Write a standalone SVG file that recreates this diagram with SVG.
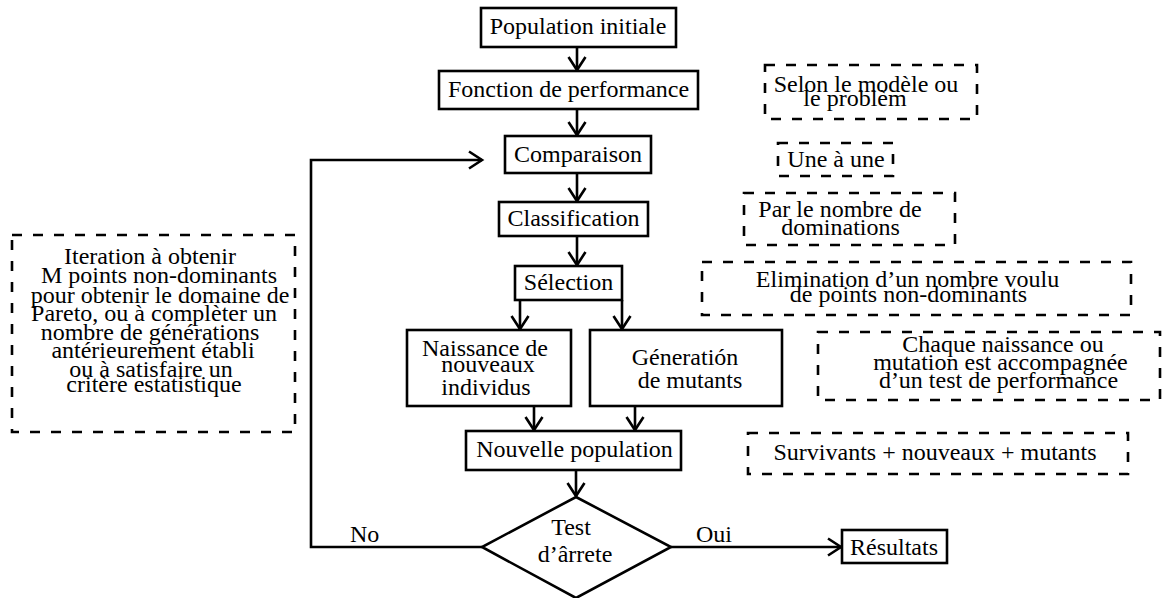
<svg xmlns="http://www.w3.org/2000/svg" width="1164" height="598" viewBox="0 0 1164 598">
<defs>
<style>
text{font-family:"Liberation Serif","Times New Roman",serif;font-size:24px;fill:#000;text-anchor:middle}
.b{fill:#fff;stroke:#000;stroke-width:2.6}
.d{fill:none;stroke:#000;stroke-width:2.6;stroke-dasharray:10 11}
.c{fill:none;stroke:#000;stroke-width:2.6}
.s{text-anchor:start}
</style>
<marker id="ah" markerUnits="userSpaceOnUse" markerWidth="20" markerHeight="22" viewBox="-15 -11 17 22" refX="0" refY="0" orient="auto">
<path d="M-13,-8.5 L0,0 L-13,8.5" fill="none" stroke="#000" stroke-width="2.6"/>
</marker>
</defs>
<rect width="1164" height="598" fill="#fff"/>
<g id="connectors">
<path class="c" d="M577,47 V70" marker-end="url(#ah)"/>
<path class="c" d="M577,109 V135" marker-end="url(#ah)"/>
<path class="c" d="M577,173 V201" marker-end="url(#ah)"/>
<path class="c" d="M577,236 V265" marker-end="url(#ah)"/>
<path class="c" d="M520,300 V329" marker-end="url(#ah)"/>
<path class="c" d="M622,300 V329" marker-end="url(#ah)"/>
<path class="c" d="M534,406 V430" marker-end="url(#ah)"/>
<path class="c" d="M635,406 V430" marker-end="url(#ah)"/>
<path class="c" d="M576,470 V496" marker-end="url(#ah)"/>
<path class="c" d="M482,547 H311 V160 H482" marker-end="url(#ah)"/>
<path class="c" d="M671,547 H841" marker-end="url(#ah)"/>
<text class="s" x="350" y="542">No</text>
<text class="s" x="696" y="542">Oui</text>
</g>
<g id="n-pop">
<rect class="b" x="481" y="8" width="195" height="39"/>
<text x="578" y="34">Population initiale</text>
</g>
<g id="n-fonction">
<rect class="b" x="439" y="71" width="259" height="38"/>
<text x="568.5" y="97">Fonction de performance</text>
</g>
<g id="n-comparaison">
<rect class="b" x="505" y="136" width="146" height="37"/>
<text x="578" y="162">Comparaison</text>
</g>
<g id="n-classification">
<rect class="b" x="499" y="202" width="149" height="34"/>
<text x="573.5" y="226">Classification</text>
</g>
<g id="n-selection">
<rect class="b" x="515" y="266" width="107" height="34"/>
<text x="568.5" y="290">Sélection</text>
</g>
<g id="n-naissance">
<rect class="b" x="407" y="330" width="164" height="76"/>
<text x="485" y="356">Naissance de</text>
<text x="488" y="372">nouveaux</text>
<text x="486" y="395">individus</text>
</g>
<g id="n-generation">
<rect class="b" x="590" y="330" width="192" height="76"/>
<text x="685" y="365">Géneratión</text>
<text x="690" y="388">de mutants</text>
</g>
<g id="n-nouvelle">
<rect class="b" x="466" y="431" width="215" height="39"/>
<text x="574.5" y="457">Nouvelle population</text>
</g>
<g id="n-test">
<path class="b" d="M576,497 L671,547 L576,598 L482,547 Z"/>
<text x="571" y="535">Test</text>
<text x="575" y="562">d’ârrete</text>
</g>
<g id="n-resultats">
<rect class="b" x="842" y="530" width="105" height="33"/>
<text x="894" y="555">Résultats</text>
</g>
<g id="a-selon">
<rect class="d" x="765" y="65" width="212" height="54"/>
<text x="866" y="92">Selon le modèle ou</text>
<text x="855" y="106">le problèm</text>
</g>
<g id="a-une">
<rect class="d" x="778" y="143" width="115" height="33"/>
<text x="836" y="167">Une à une</text>
</g>
<g id="a-par">
<rect class="d" x="744" y="193" width="211" height="52"/>
<text x="840" y="217">Par le nombre de</text>
<text x="840.5" y="235">dominations</text>
</g>
<g id="a-elimination">
<rect class="d" x="702" y="262" width="429" height="53"/>
<text x="907.5" y="287">Elimination d’un nombre voulu</text>
<text x="908.5" y="302">de points non-dominants</text>
</g>
<g id="a-chaque">
<rect class="d" x="818" y="332" width="342" height="68"/>
<text x="1003" y="352">Chaque naissance ou</text>
<text x="1000.5" y="370">mutation est accompagnée</text>
<text x="998.5" y="388">d’un test de performance</text>
</g>
<g id="a-survivants">
<rect class="d" x="748" y="433" width="380" height="41"/>
<text x="935" y="460">Survivants + nouveaux + mutants</text>
</g>
<g id="a-iteration">
<rect class="d" x="12" y="235" width="283" height="197"/>
<text x="150" y="264">Iteration à obtenir</text>
<text x="159" y="283">M points non-dominants</text>
<text x="160" y="303">pour obtenir le domaine de</text>
<text x="154" y="321">Pareto, ou à complèter un</text>
<text x="150" y="340">nombre de générations</text>
<text x="153" y="358">antérieurement établi</text>
<text x="151" y="377">ou à satisfaire un</text>
<text x="154" y="392">critère estatistique</text>
</g>
</svg>
